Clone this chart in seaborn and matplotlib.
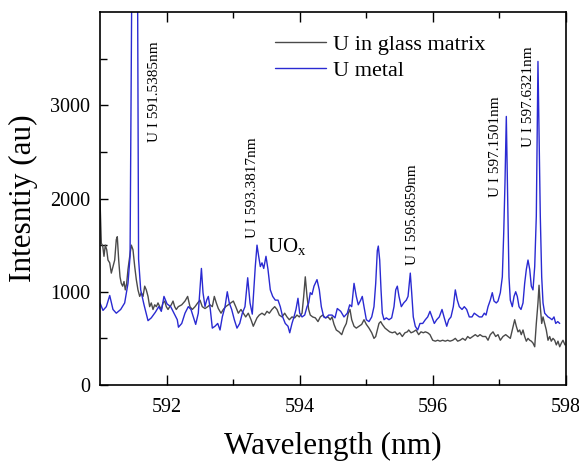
import numpy as np
import pandas as pd
import matplotlib
matplotlib.use("Agg")
import matplotlib.pyplot as plt
import seaborn as sns

# ---------------- data ----------------
metal_wl = [591.000, 591.045, 591.095, 591.146, 591.195, 591.245, 591.311, 591.371, 591.421, 591.452,
            591.478, 591.520, 591.565, 591.580, 591.612, 591.662, 591.722, 591.771, 591.832, 591.883,
            591.922, 591.962, 592.008, 592.063, 592.113, 592.162, 592.180, 592.229, 592.278, 592.328,
            592.368, 592.403, 592.439, 592.478, 592.525, 592.549, 592.579, 592.604, 592.629, 592.659,
            592.689, 592.729, 592.770, 592.805, 592.839, 592.880, 592.914, 592.944, 592.980, 593.020,
            593.060, 593.101, 593.140, 593.180, 593.221, 593.256, 593.290, 593.310, 593.335, 593.361,
            593.386, 593.411, 593.436, 593.462, 593.496, 593.526, 593.561, 593.597, 593.636, 593.677,
            593.711, 593.747, 593.786, 593.827, 593.853, 593.887, 593.917, 593.947, 593.977, 594.003,
            594.038, 594.078, 594.113, 594.138, 594.162, 594.188, 594.218, 594.263, 594.298, 594.328,
            594.364, 594.398, 594.439, 594.489, 594.534, 594.568, 594.620, 594.669, 594.719, 594.755,
            594.785, 594.820, 594.854, 594.884, 594.920, 594.944, 594.970, 595.005, 595.045, 595.086,
            595.120, 595.146, 595.170, 595.185, 595.206, 595.226, 595.245, 595.271, 595.305, 595.346,
            595.386, 595.421, 595.447, 595.471, 595.496, 595.531, 595.567, 595.606, 595.632, 595.651,
            595.666, 595.687, 595.711, 595.741, 595.777, 595.812, 595.853, 595.892, 595.928, 595.962,
            595.992, 596.027, 596.063, 596.102, 596.143, 596.177, 596.214, 596.244, 596.278, 596.313,
            596.343, 596.373, 596.403, 596.444, 596.478, 596.514, 596.553, 596.594, 596.628, 596.665,
            596.704, 596.744, 596.779, 596.805, 596.835, 596.869, 596.899, 596.925, 596.959, 596.985,
            597.020, 597.050, 597.071, 597.090, 597.110, 597.135, 597.150, 597.170, 597.200, 597.226,
            597.251, 597.275, 597.301, 597.331, 597.361, 597.386, 597.411, 597.436, 597.462, 597.486,
            597.511, 597.537, 597.561, 597.586, 597.621, 597.642, 597.662, 597.687, 597.711, 597.737,
            597.762, 597.797, 597.827, 597.853, 597.883, 597.913]
metal_int = [880, 800, 840, 960, 810, 770, 810, 880, 1090, 1380,
             4300, 6000, 4300, 1350, 1020, 860, 690, 720, 780, 840,
             790, 950, 870, 840, 770, 700, 620, 660, 770, 840,
             810, 730, 650, 770, 1250, 990, 842, 910, 950, 810,
             610, 630, 660, 590, 730, 840, 1000, 880, 810, 700,
             610, 660, 770, 840, 1150, 880, 760, 990, 1270, 1500,
             1380, 1270, 1310, 1250, 1380, 1240, 1020, 950, 910, 910,
             840, 730, 660, 630, 560, 660, 730, 810, 930, 770,
             730, 750, 840, 880, 990, 970, 1060, 1130, 1020, 840,
             730, 720, 750, 750, 720, 820, 790, 730, 770, 860,
             840, 1090, 950, 860, 910, 950, 840, 700, 680, 730,
             840, 1090, 1440, 1490, 1340, 1020, 770, 700, 720, 700,
             720, 840, 1020, 1060, 950, 840, 880, 910, 950, 1090,
             1200, 990, 730, 630, 590, 660, 660, 700, 730, 790,
             730, 660, 700, 730, 810, 720, 630, 700, 730, 840,
             1020, 910, 840, 810, 840, 810, 730, 730, 770, 750,
             730, 730, 770, 750, 840, 910, 990, 900, 880, 900,
             990, 1160, 1630, 2170, 2880, 1800, 1160, 910, 840, 950,
             1000, 950, 840, 810, 880, 1090, 1240, 1340, 1240, 1060,
             1020, 1270, 1810, 3470, 1810, 1160, 880, 770, 750, 730,
             720, 700, 730, 660, 680, 660]

glass_wl = [591.000, 591.020, 591.041, 591.060, 591.080, 591.101, 591.120, 591.146, 591.170, 591.195,
            591.221, 591.245, 591.260, 591.281, 591.301, 591.320, 591.341, 591.361, 591.380, 591.401,
            591.421, 591.447, 591.471, 591.496, 591.522, 591.546, 591.571, 591.597, 591.621, 591.647,
            591.672, 591.696, 591.722, 591.747, 591.771, 591.797, 591.823, 591.847, 591.872, 591.898,
            591.922, 591.947, 591.973, 591.997, 592.023, 592.048, 592.072, 592.098, 592.123, 592.147,
            592.177, 592.229, 592.278, 592.318, 592.353, 592.388, 592.429, 592.469, 592.504, 592.538,
            592.579, 592.620, 592.654, 592.689, 592.719, 592.749, 592.779, 592.820, 592.854, 592.890,
            592.929, 592.970, 593.005, 593.041, 593.080, 593.120, 593.155, 593.191, 593.230, 593.271,
            593.305, 593.361, 593.395, 593.436, 593.475, 593.511, 593.546, 593.586, 593.627, 593.662,
            593.696, 593.737, 593.777, 593.812, 593.847, 593.887, 593.928, 593.962, 593.997, 594.038,
            594.063, 594.087, 594.113, 594.138, 594.162, 594.198, 594.238, 594.278, 594.313, 594.349,
            594.388, 594.429, 594.463, 594.489, 594.519, 594.553, 594.594, 594.635, 594.669, 594.704,
            594.734, 594.759, 594.785, 594.820, 594.854, 594.895, 594.935, 594.970, 595.005, 595.045,
            595.086, 595.120, 595.146, 595.170, 595.195, 595.221, 595.245, 595.286, 595.320, 595.356,
            595.395, 595.436, 595.471, 595.507, 595.546, 595.586, 595.621, 595.642, 595.677, 595.711,
            595.752, 595.792, 595.827, 595.862, 595.892, 595.928, 595.962, 596.003, 596.042, 596.078,
            596.113, 596.153, 596.192, 596.228, 596.263, 596.304, 596.343, 596.379, 596.414, 596.454,
            596.493, 596.529, 596.564, 596.605, 596.644, 596.680, 596.714, 596.755, 596.800, 596.835,
            596.869, 596.910, 596.950, 596.985, 597.020, 597.060, 597.101, 597.135, 597.170, 597.200,
            597.236, 597.260, 597.286, 597.311, 597.335, 597.361, 597.386, 597.411, 597.436, 597.462,
            597.486, 597.511, 597.537, 597.561, 597.586, 597.602, 597.621, 597.642, 597.662, 597.687,
            597.711, 597.737, 597.762, 597.786, 597.812, 597.837, 597.862, 597.887, 597.913, 597.938,
            597.962, 597.992]
glass_int = [1990, 1520, 1490, 1380, 1500, 1450, 1340, 1310, 1200, 1270,
             1340, 1560, 1590, 1340, 1160, 1090, 1060, 1110, 1020, 1090,
             1240, 1380, 1500, 1450, 1270, 1130, 1020, 950, 990, 950,
             1060, 1020, 950, 840, 880, 810, 860, 840, 880, 840,
             810, 880, 900, 840, 810, 840, 860, 900, 840, 810,
             840, 860, 900, 950, 840, 810, 840, 880, 910, 840,
             820, 840, 860, 840, 950, 880, 820, 770, 810, 840,
             860, 880, 900, 840, 770, 810, 770, 730, 770, 700,
             630, 720, 750, 770, 750, 790, 770, 810, 840, 810,
             750, 730, 770, 730, 700, 730, 720, 750, 730, 770,
             950, 1160, 950, 810, 750, 730, 720, 680, 730, 750,
             720, 730, 700, 730, 650, 590, 570, 540, 610, 660,
             770, 810, 700, 630, 610, 630, 650, 700, 650, 610,
             560, 500, 520, 590, 660, 680, 650, 610, 590, 570,
             560, 570, 540, 560, 520, 560, 570, 590, 560, 570,
             590, 540, 570, 560, 570, 560, 540, 480, 470, 480,
             470, 480, 470, 480, 470, 480, 500, 470, 480, 500,
             480, 520, 500, 520, 540, 520, 540, 520, 520, 480,
             540, 570, 520, 540, 480, 520, 540, 520, 500, 590,
             700, 630, 570, 590, 540, 590, 520, 470, 500, 480,
             470, 450, 410, 660, 880, 1070, 840, 660, 730, 660,
             590, 480, 520, 470, 500, 480, 430, 470, 410, 450,
             480, 430]

series_names = ["U in glass matrix", "U metal"]
series_colors = ["#4a4a4a", "#2a2ad2"]

xticks = [592, 594, 596, 598]
yticks = [0, 1000, 2000, 3000]

annotations = [  # (text, x, y bottom)
    ("U I 591.5385nm", 591.827, 2610),
    ("U I 593.3817nm", 593.286, 1580),
    ("U I 595.6859nm", 595.692, 1290),
    ("U I 597.1501nm", 596.940, 2020),
    ("U I 597.6321nm", 597.451, 2550),
]

# ---------------- build frame ----------------
df = pd.concat([
    pd.DataFrame({"wl": glass_wl, "I": glass_int, "series": series_names[0]}),
    pd.DataFrame({"wl": metal_wl, "I": metal_int, "series": series_names[1]}),
], ignore_index=True)

sns.set_theme(style="ticks")
plt.rcParams["font.family"] = ["Liberation Serif", "DejaVu Serif"]
plt.rcParams["mathtext.fontset"] = "custom"
plt.rcParams["mathtext.rm"] = "Liberation Serif"
plt.rcParams["mathtext.it"] = "Liberation Serif:italic"
plt.rcParams["text.color"] = "black"
plt.rcParams["axes.labelcolor"] = "black"
plt.rcParams["xtick.color"] = "black"
plt.rcParams["ytick.color"] = "black"

fig = plt.figure(figsize=(5.79, 4.61), dpi=100)
ax = fig.add_axes([100 / 579, 1 - 385 / 461, 465.5 / 579, 373 / 461])

sns.lineplot(data=df, x="wl", y="I", hue="series", hue_order=series_names,
             palette=dict(zip(series_names, series_colors)), sort=False,
             estimator=None, linewidth=1.0, ax=ax)

ax.set_xlim(591, 598)
ax.set_ylim(0, 4000)
ax.set_xticks(xticks)
ax.set_yticks(yticks)
ax.set_xticks([593, 595, 597], minor=True)
ax.set_yticks([500, 1500, 2500, 3500], minor=True)
ax.tick_params(axis="both", which="both", direction="in", colors="black", labelcolor="black",
               labelsize=14.5, width=1.0)
ax.tick_params(axis="x", which="both", top=True, pad=9)
ax.tick_params(axis="y", which="both", right=False, pad=7)
ax.tick_params(axis="x", which="major", length=7)
ax.tick_params(axis="x", which="minor", length=4)
ax.tick_params(axis="y", which="major", length=6)
ax.tick_params(axis="y", which="minor", length=5)
for s in ax.spines.values():
    s.set_visible(True)
    s.set_color("black")
    s.set_linewidth(1.2)

ax.set_xlabel("Wavelength (nm)", fontsize=22.5, labelpad=11, color="black")
ax.set_ylabel("Intesntiy (au)", fontsize=22.5, labelpad=9, color="black")

for txt, x, y in annotations:
    ax.text(x, y, txt, rotation=90, ha="center", va="bottom", fontsize=11, color="black")
ax.text(593.511, 1430, r"UO$_{\mathrm{x}}$", ha="left", va="baseline", fontsize=15, color="black")

leg = ax.legend(loc="upper left", bbox_to_anchor=(0.376, 0.94), frameon=False, fontsize=16,
                handlelength=2.3, handletextpad=0.3, labelspacing=0.25, borderpad=0, borderaxespad=0)
for t in leg.get_texts():
    t.set_color("black")
for h in leg.get_lines():
    h.set_linewidth(1.0)

fig.savefig("out.png", dpi=100)
